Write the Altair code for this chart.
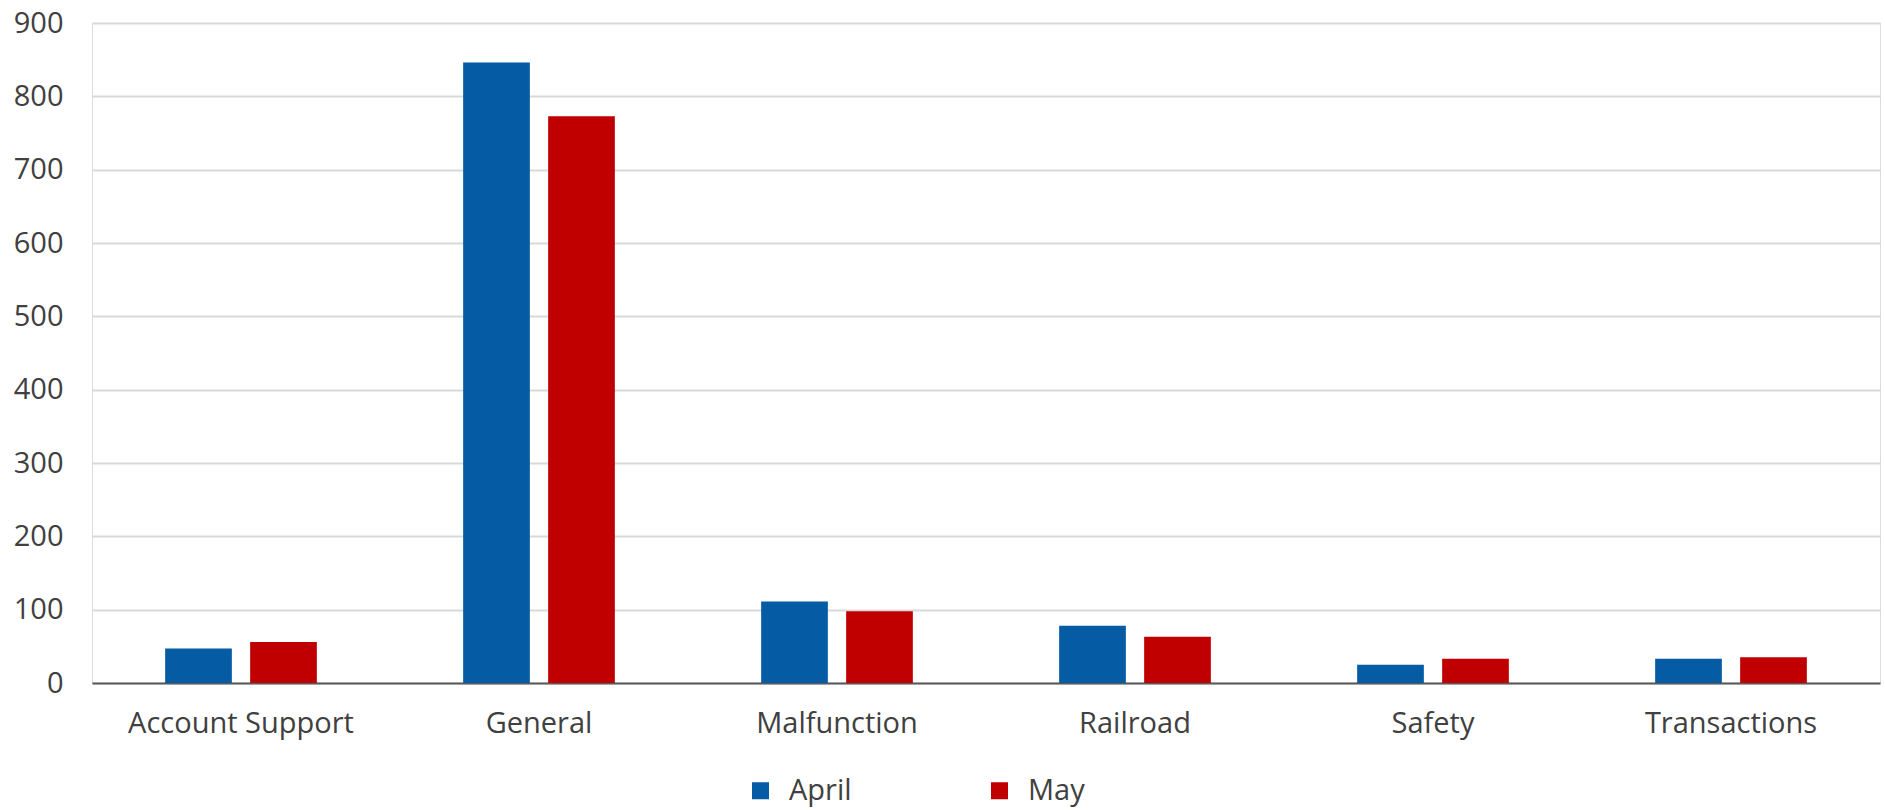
import altair as alt
import pandas as pd

# Ticket counts per category for two months
categories = ["Account Support", "General", "Malfunction", "Railroad", "Safety", "Transactions"]
months = ["April", "May"]
april = [47, 846, 111, 78, 25, 33]
may = [56, 773, 98, 63, 33, 35]
colors = ["#055BA4", "#C00000"]
y_ticks = [0, 100, 200, 300, 400, 500, 600, 700, 800, 900]

rows = []
for cat, a, m in zip(categories, april, may):
    rows.append({"category": cat, "month": "April", "count": a})
    rows.append({"category": cat, "month": "May", "count": m})
df = pd.DataFrame(rows)

FONT = "Open Sans"
TEXT = "#404040"

chart = (
    alt.Chart(df)
    .mark_bar()
    .encode(
        x=alt.X(
            "category:N",
            sort=categories,
            scale=alt.Scale(paddingInner=0, paddingOuter=0),
            axis=alt.Axis(
                title=None,
                labelAngle=0,
                ticks=False,
                domain=True,
                domainColor="#595959",
                domainWidth=2,
                grid=False,
                labelFont=FONT,
                labelFontSize=29,
                labelColor=TEXT,
                labelPadding=26,
                labelLimit=500,
            ),
        ),
        xOffset=alt.XOffset(
            "month:N",
            sort=months,
            scale=alt.Scale(paddingInner=0.2153, paddingOuter=0.8606),
        ),
        y=alt.Y(
            "count:Q",
            scale=alt.Scale(domain=[0, 900], nice=False),
            axis=alt.Axis(
                title=None,
                values=y_ticks,
                ticks=False,
                domain=False,
                grid=True,
                gridColor="#D9D9D9",
                gridWidth=2,
                labelFont=FONT,
                labelFontSize=29,
                labelColor=TEXT,
                labelPadding=29,
            ),
        ),
        color=alt.Color(
            "month:N",
            sort=months,
            scale=alt.Scale(domain=months, range=colors),
            legend=alt.Legend(
                title=None,
                orient="none",
                direction="horizontal",
                legendX=654,
                legendY=753,
                padding=0,
                symbolType="square",
                symbolSize=289,
                symbolStrokeWidth=0,
                symbolOpacity=1,
                labelFont=FONT,
                labelFontSize=29,
                labelColor=TEXT,
                labelOffset=14,
                columnPadding=133,
            ),
        ),
    )
    .properties(
        width=1788,
        height=660,
        autosize=alt.AutoSizeParams(type="none"),
        padding={"left": 92, "top": 23, "right": 5, "bottom": 127},
    )
    .configure_view(stroke=None)
    .configure(background="white")
)

chart.save("out.html", embed_options={"renderer": "svg", "actions": False})
